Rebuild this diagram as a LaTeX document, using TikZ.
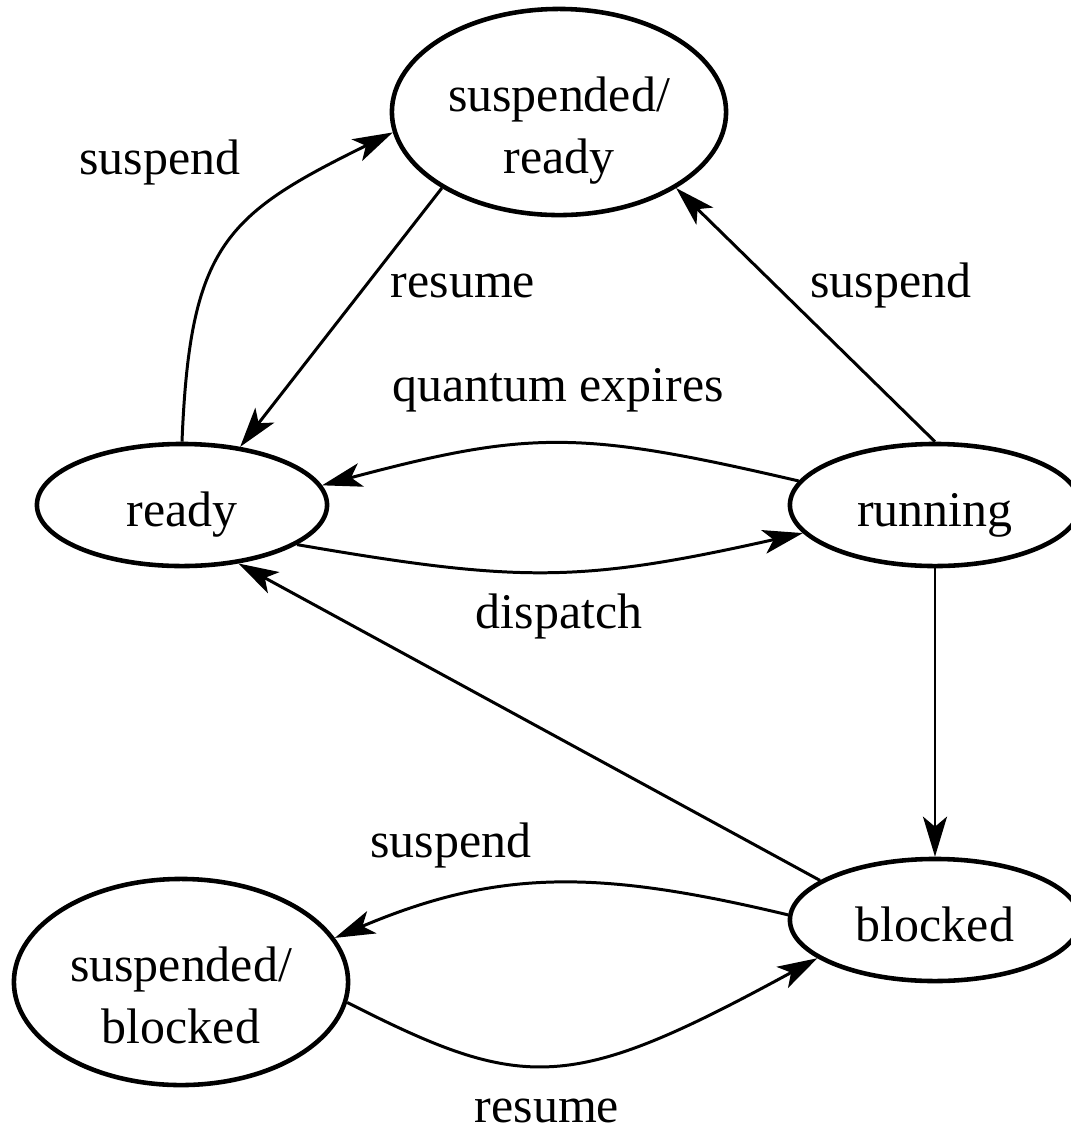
\documentclass[tikz,border=0pt]{standalone}
\usepackage{fontspec}
\setmainfont{Liberation Serif}
\usetikzlibrary{shapes.geometric,arrows.meta}

\tikzset{
  state/.style={draw, ellipse, line width=1.3pt, inner sep=0pt,
    minimum width=2.9cm, minimum height=1.22cm,
    text height=0.42cm, text depth=0pt},
  bigstate/.style={state, minimum width=3.34cm, minimum height=2.06cm,
    align=center, text height=1.22cm, text depth=0pt},
  lbl/.style={anchor=base},
  trans/.style={line width=0.85pt,
    -{Stealth[length=0.4cm, width=0.24cm, inset=0.1cm]}}
}

\begin{document}
\begin{tikzpicture}[x=0.01cm, y=-0.01cm, font=\fontsize{14.2pt}{17.4pt}\selectfont]
  \path[use as bounding box, clip] (0,0) rectangle (1071,1129);
  \draw
    (559,112) node[bigstate] (sready){suspended/\\ready}
    (182,505) node[state] (ready){ready}
    (935,505) node[state] (running){running}
    (935,920) node[state] (blocked){blocked}
    (181,982) node[bigstate] (sblocked){suspended/\\blocked};
  \begin{scope}[trans]
    \draw (ready.north) .. controls (190,245) and (225,215) .. (sready.187);
    \draw (sready.213) -- (ready.45);
    \draw (running.north) -- (sready.-33);
    \draw (running.170) .. controls (580,430) and (530,430) .. (ready.8);
    \draw (ready.-19) .. controls (520,583) and (580,583) .. (running.-168);
    \draw (running) -- (blocked);
    \draw (blocked.161) -- (ready.-46);
    \draw (blocked.178) .. controls (600,870) and (500,868) .. (sblocked.16);
    \draw (sblocked.-7) .. controls (525,1093) and (570,1093) .. (blocked.-162);
  \end{scope}
  % transition labels
  \node[lbl] (l1) at (160,174) {suspend};
  \node[lbl] (l2) at (463,297) {resume};
  \node[lbl] (l3) at (891,297) {suspend};
  \node[lbl] (l4) at (558,401) {quantum expires};
  \node[lbl] (l5) at (559,628) {dispatch};
  \node[lbl] (l6) at (451,857) {suspend};
  \node[lbl] (l7) at (547,1122) {resume};
\end{tikzpicture}
\end{document}
